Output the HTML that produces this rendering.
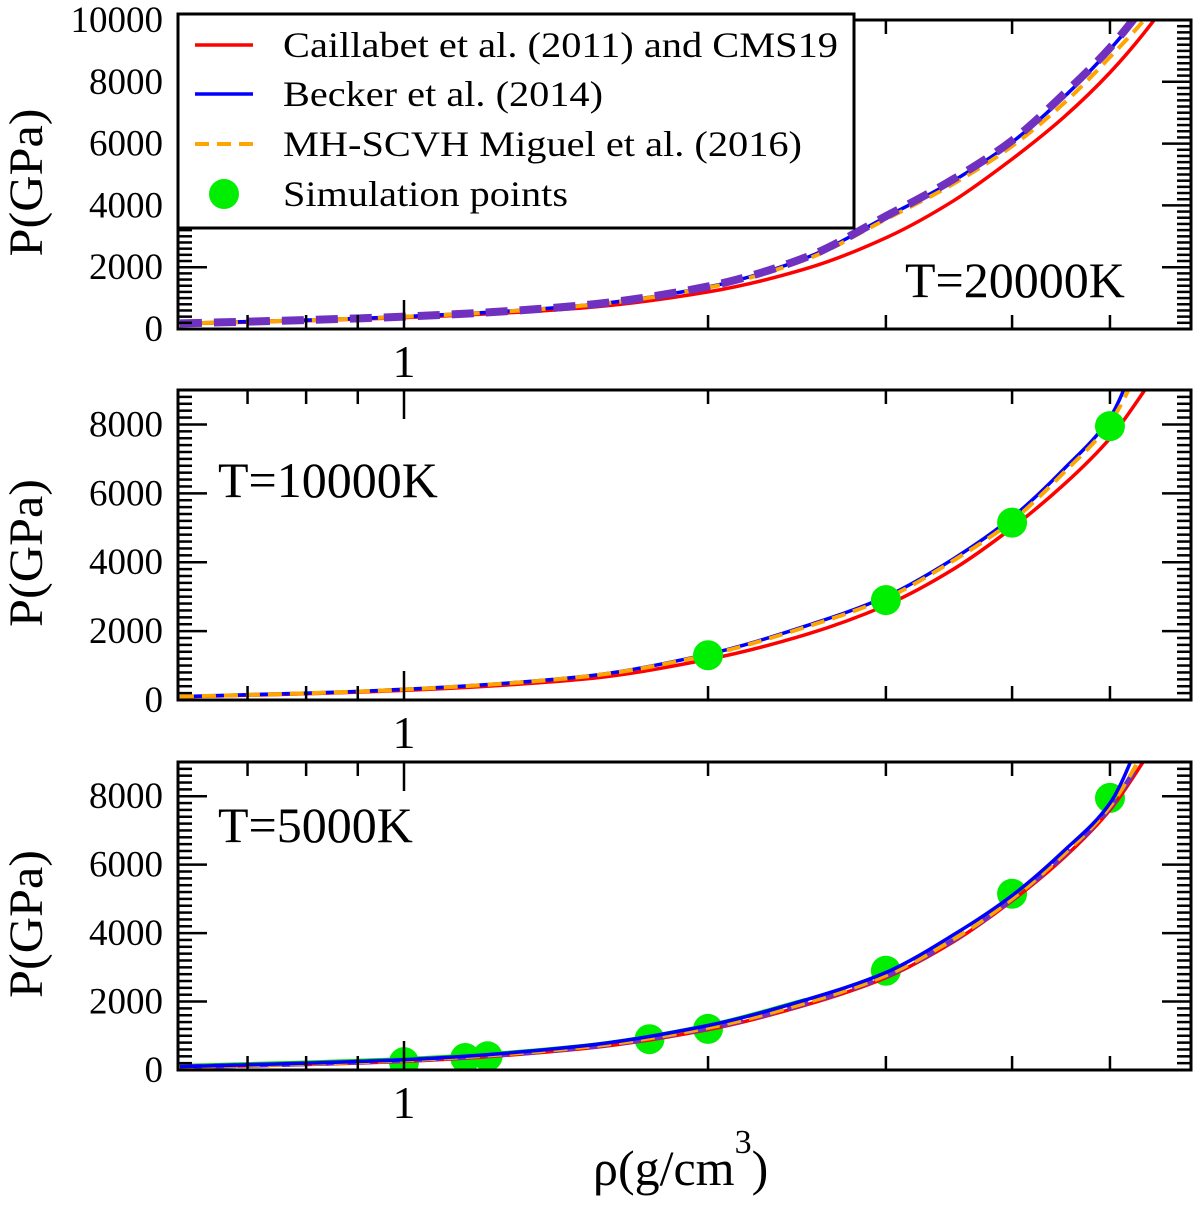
<!DOCTYPE html>
<html><head><meta charset="utf-8">
<style>
html,body{margin:0;padding:0;background:#fff;}
svg{display:block;}
svg text{font-family:"Liberation Serif","DejaVu Serif",serif;}
</style></head>
<body>
<svg id="chart" width="1200" height="1207" viewBox="0 0 1200 1207" xmlns="http://www.w3.org/2000/svg" font-family="Liberation Serif, DejaVu Serif, serif"></svg>
<script>
// ---- data ----
const curveRho = [0.6,0.8,1,1.5,2,2.5,3,3.5,4,4.5,5,5.5,6];
// T=20000K panel
const topRed    = [165,270,370,680,1200,1950,2950,4150,5500,6850,8300,9900,11700];
const topBlue   = [180,290,400,760,1360,2300,3620,4800,6050,7500,9050,10700,12500];
const topOrange = [175,285,395,750,1340,2250,3550,4700,5920,7300,8800,10300,12100];
const topPurple = [180,290,400,765,1380,2320,3650,4850,6100,7600,9100,10800,12600];
// T=10000K panel
const midRed    = [90,180,280,600,1180,1900,2750,3800,5000,6250,7600,9300,11000];
const midBlue   = [100,200,310,680,1330,2150,3000,4100,5300,6700,8200,11000,13000];
const midOrange = [100,195,305,670,1310,2120,2950,4050,5200,6600,8050,10400,12500];
const midPtsRho = [2,3,4,5];
const midPtsP   = [1300,2900,5150,7950];
// T=5000K panel
const botRed    = [80,160,250,620,1180,1900,2700,3750,4950,6200,7600,9400,11200];
const botBlue   = [100,200,300,700,1300,2050,2850,3950,5100,6400,7800,10500,13000];
const botOrange = [90,180,280,660,1230,1960,2760,3820,5000,6300,7700,9700,11600];
const botPurple = [90,180,280,650,1220,1950,2750,3800,5000,6280,7680,9600,11500];
const botGreenRho = [0.6,0.8,1,1.5,2,2.5];
const botGreen  = [120,220,320,700,1300,2050];
const botPtsRho = [1,1.15,1.21,1.75,2,3,4,5];
const botPtsP   = [230,350,400,900,1200,2900,5150,7950];
const xMajorTicks = [1];
const xMinorTicks = [0.7,0.8,0.9,2,3,4,5];

const NS="http://www.w3.org/2000/svg";
const svg=document.getElementById('chart');
const FONT='"Liberation Serif","DejaVu Serif",serif';
function mk(tag,attrs,parent){const e=document.createElementNS(NS,tag);for(const k in attrs)e.setAttribute(k,attrs[k]);if(tag==='text')e.style.fontFamily=FONT;(parent||svg).appendChild(e);return e;}

const XL=178, XR=1191;
function xs(r){return 404+1010*Math.log10(r);}
const panels=[
 {key:'top',y0:329,yt:20,ymax:10000,yl:[0,2000,4000,6000,8000,10000]},
 {key:'mid',y0:700,yt:390,ymax:9000,yl:[0,2000,4000,6000,8000]},
 {key:'bot',y0:1070,yt:762,ymax:9000,yl:[0,2000,4000,6000,8000]}
];
function ys(p,v){return p.y0-(p.y0-p.yt)*v/p.ymax;}

// monotone cubic (Fritsch-Carlson) path in pixel space
function smoothPath(pts){
  const n=pts.length;const dx=[],m=[],t=[];
  for(let i=0;i<n-1;i++){dx[i]=pts[i+1][0]-pts[i][0];m[i]=(pts[i+1][1]-pts[i][1])/dx[i];}
  t[0]=m[0];t[n-1]=m[n-2];
  for(let i=1;i<n-1;i++){ if(m[i-1]*m[i]<=0)t[i]=0; else {const w1=2*dx[i]+dx[i-1],w2=dx[i]+2*dx[i-1];t[i]=(w1+w2)/(w1/m[i-1]+w2/m[i]);}}
  let d='M'+pts[0][0].toFixed(1)+','+pts[0][1].toFixed(1);
  for(let i=0;i<n-1;i++){
    const h=dx[i]/3;
    d+=' C'+(pts[i][0]+h).toFixed(1)+','+(pts[i][1]+t[i]*h).toFixed(1)+' '+(pts[i+1][0]-h).toFixed(1)+','+(pts[i+1][1]-t[i+1]*h).toFixed(1)+' '+pts[i+1][0].toFixed(1)+','+pts[i+1][1].toFixed(1);
  }
  return d;
}
function drawCurve(p,rhos,vals,style,name,g){
  const pts=rhos.map((r,i)=>[xs(r),ys(p,vals[i])]);
  const el=mk('path',Object.assign({d:smoothPath(pts),fill:'none','stroke-linejoin':'round'},style),g);
  
  
}
function drawPoints(p,rhos,vals,name,g){
  rhos.forEach((r,i)=>{
    const c=mk('circle',{cx:xs(r),cy:ys(p,vals[i]),r:15,fill:'#00ee00'},g);
    
    
  });
}
const RED={stroke:'#ff0000','stroke-width':3.5};
const BLUE={stroke:'#0000ff','stroke-width':3.5};
const ORANGE={stroke:'#ffa500','stroke-width':4,'stroke-dasharray':'14 8'};
const PURPLE={stroke:'#7030c0','stroke-width':8,'stroke-dasharray':'22 12'};
const GREEN={stroke:'#00dd00','stroke-width':4};

panels.forEach(p=>{
  const g=mk('g',{});
  
  
  mk('clipPath',{id:'clip-'+p.key},g);
  mk('rect',{x:XL,y:p.yt,width:XR-XL,height:p.y0-p.yt},g.lastChild);
  const cg=mk('g',{'clip-path':'url(#clip-'+p.key+')'},g);
  if(p.key==='top'){
    drawCurve(p,curveRho,topRed,RED,'caillabet-curve',cg);
    drawCurve(p,curveRho,topBlue,BLUE,'becker-curve',cg);
    drawCurve(p,curveRho,topOrange,ORANGE,'mh-scvh-curve',cg);
    drawCurve(p,curveRho,topPurple,PURPLE,'extra-dashed-curve',cg);
  } else if(p.key==='mid'){
    drawCurve(p,curveRho,midRed,RED,'caillabet-curve',cg);
    drawCurve(p,curveRho,midBlue,BLUE,'becker-curve',cg);
    drawCurve(p,curveRho,midOrange,ORANGE,'mh-scvh-curve',cg);
    drawPoints(p,midPtsRho,midPtsP,'simulation-point',cg);
  } else {
    drawPoints(p,botPtsRho,botPtsP,'simulation-point',cg);
    drawCurve(p,botGreenRho,botGreen,GREEN,'green-curve',cg);
    drawCurve(p,curveRho,botRed,RED,'caillabet-curve',cg);
    drawCurve(p,curveRho,botPurple,Object.assign({},PURPLE,{'stroke-width':5}),'extra-dashed-curve',cg);
    drawCurve(p,curveRho,botOrange,ORANGE,'mh-scvh-curve',cg);
    drawCurve(p,curveRho,botBlue,BLUE,'becker-curve',cg);
  }
  const fr=mk('rect',{x:XL,y:p.yt,width:XR-XL,height:p.y0-p.yt,fill:'none',stroke:'#000','stroke-width':3},g);
  
  
  for(let v=0;v<=p.ymax+1;v+=200){
    const y=ys(p,v);const L=(v%2000===0)?29:14;
    mk('line',{x1:XL,x2:XL+L,y1:y,y2:y,stroke:'#000','stroke-width':2.5},g);
    mk('line',{x1:XR-L,x2:XR,y1:y,y2:y,stroke:'#000','stroke-width':2.5},g);
  }
  p.yl.forEach(v=>{
    const t=mk('text',{x:163,y:ys(p,v)+12,'text-anchor':'end','font-size':37},g);
    t.textContent=v;
    
    
  });
  xMinorTicks.concat(xMajorTicks).forEach(r=>{
    const x=xs(r);const L=xMajorTicks.includes(r)?29:14;
    mk('line',{x1:x,x2:x,y1:p.y0,y2:p.y0-L,stroke:'#000','stroke-width':2.5},g);
    mk('line',{x1:x,x2:x,y1:p.yt,y2:p.yt+L,stroke:'#000','stroke-width':2.5},g);
  });
  const xl=mk('text',{x:xs(1),y:p.y0+48,'text-anchor':'middle','font-size':46},g);
  xl.textContent='1';
  
  
  const yt=mk('text',{transform:'translate(42,'+((p.y0+p.yt)/2+8)+') rotate(-90)','text-anchor':'middle','font-size':48,textLength:148,lengthAdjust:'spacingAndGlyphs'},g);
  yt.textContent='P(GPa)';
  
  
});

[['T=20000K',905,297,'temp-label-20000k'],['T=10000K',218,497,'temp-label-10000k'],['T=5000K',218,842,'temp-label-5000k']].forEach(a=>{
  const t=mk('text',{x:a[1],y:a[2],'font-size':50});
  t.textContent=a[0];
  
  
});

const lg=mk('g',{});


mk('rect',{x:178,y:14,width:676,height:214,fill:'#fff',stroke:'#000','stroke-width':3},lg);
const legItems=[
 ['Caillabet et al. (2011) and CMS19','legend-entry-caillabet',RED,45,555],
 ['Becker et al. (2014)','legend-entry-becker',BLUE,94,320],
 ['MH-SCVH Miguel et al. (2016)','legend-entry-mh-scvh',ORANGE,144,519],
 ['Simulation points','legend-entry-simulation',null,194,285]
];
legItems.forEach(it=>{
  const eg=mk('g',{},lg);
  
  
  if(it[2]) mk('line',Object.assign({x1:195,x2:253,y1:it[3],y2:it[3]},it[2]),eg);
  else mk('circle',{cx:224,cy:it[3],r:15,fill:'#00ee00'},eg);
  const t=mk('text',{x:283,y:it[3]+12,'font-size':36,textLength:it[4],lengthAdjust:'spacingAndGlyphs'},eg);
  t.textContent=it[0];
});
const xt=mk('text',{x:593,y:1185,'font-size':50});


xt.textContent='ρ(g/cm';
const ts=mk('tspan',{'font-size':34,dy:-32},xt);ts.textContent='3';
const ts2=mk('tspan',{'font-size':50,dy:32},xt);ts2.textContent=')';
</script>
</body></html>
